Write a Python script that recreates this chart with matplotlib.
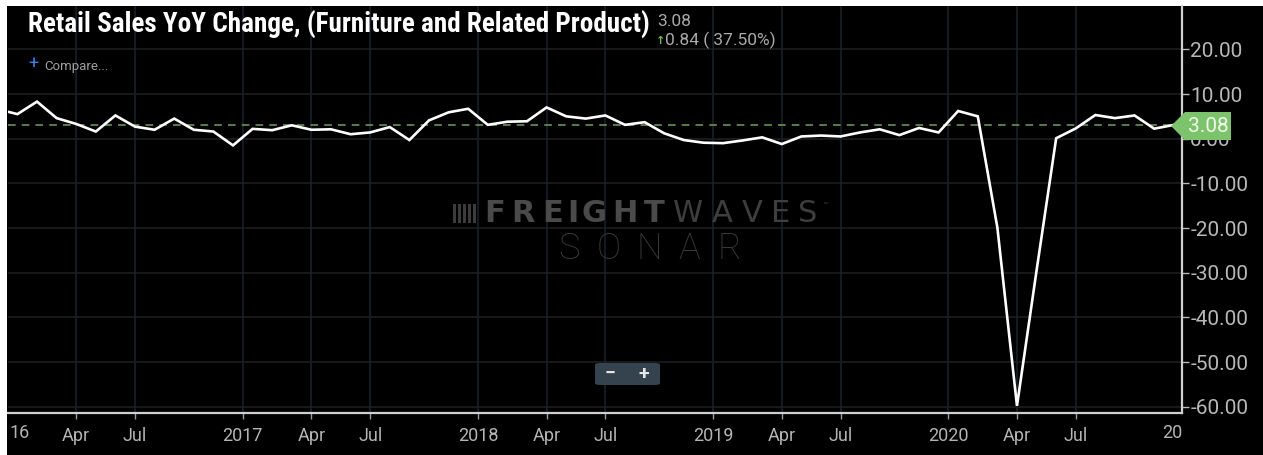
import matplotlib
matplotlib.use("Agg")
import matplotlib.pyplot as plt
from matplotlib import font_manager
from matplotlib.patches import Polygon, FancyBboxPatch, Rectangle

# ---------------- data ----------------
month_labels = ["2015-12",
    "2016-01", "2016-02", "2016-03", "2016-04", "2016-05", "2016-06",
    "2016-07", "2016-08", "2016-09", "2016-10", "2016-11", "2016-12",
    "2017-01", "2017-02", "2017-03", "2017-04", "2017-05", "2017-06",
    "2017-07", "2017-08", "2017-09", "2017-10", "2017-11", "2017-12",
    "2018-01", "2018-02", "2018-03", "2018-04", "2018-05", "2018-06",
    "2018-07", "2018-08", "2018-09", "2018-10", "2018-11", "2018-12",
    "2019-01", "2019-02", "2019-03", "2019-04", "2019-05", "2019-06",
    "2019-07", "2019-08", "2019-09", "2019-10", "2019-11", "2019-12",
    "2020-01", "2020-02", "2020-03", "2020-04", "2020-05", "2020-06",
    "2020-07", "2020-08", "2020-09", "2020-10", "2020-11", "2020-12"]
yoy_values = [6.6,
    5.5, 8.3, 4.6, 3.3, 1.6, 5.2, 2.7, 2.0, 4.5, 2.0, 1.6, -1.5,
    2.2, 1.9, 3.0, 2.0, 2.1, 1.0, 1.4, 2.6, -0.3, 4.1, 5.9, 6.7,
    3.1, 3.8, 3.9, 7.0, 5.0, 4.5, 5.2, 3.1, 3.7, 1.2, -0.3, -0.9,
    -1.0, -0.4, 0.3, -1.2, 0.5, 0.7, 0.5, 1.4, 2.1, 0.8, 2.4, 1.4,
    6.2, 5.0, -19.9, -59.8, -29.5, 0.1, 2.3, 5.3, 4.6, 5.2, 2.24, 3.08]

x_tick_labels = ["Apr", "Jul", "2017", "Apr", "Jul", "2018", "Apr", "Jul",
                 "2019", "Apr", "Jul", "2020", "Apr", "Jul"]
x_tick_pos = [3, 6, 11.5, 15, 18, 23.5, 27, 30, 35.5, 39, 42, 47.5, 51, 54]
edge_labels = ["16", "20"]
y_ticks = [20, 10, 0, -10, -20, -30, -40, -50, -60]

last_value = 3.08
change = 0.84
change_pct = 37.50
title = "Retail Sales YoY Change, (Furniture and Related Product)"

# x positions: month index relative to Jan 2016
x_vals = list(range(-1, len(month_labels) - 1))


def pick(fams):
    for f in fams:
        try:
            font_manager.findfont(font_manager.FontProperties(family=f),
                                  fallback_to_default=False)
            return f
        except Exception:
            pass
    return "DejaVu Sans"


title_font = pick(["Roboto Condensed", "Liberation Sans Narrow",
                   "DejaVu Sans Condensed", "Roboto"])
base_font = pick(["Roboto", "Lato", "DejaVu Sans"])
plt.rcParams["font.family"] = [base_font, "DejaVu Sans"]

W, H = 1263, 455
fig = plt.figure(figsize=(W / 100, H / 100), dpi=100, facecolor="white")
# black chart region (white strip on left and top)
fig.add_artist(Rectangle((7 / W, 0), 1 - 7 / W, (H - 6) / H,
                         transform=fig.transFigure, facecolor="black",
                         edgecolor="none", zorder=0))

ax = fig.add_axes([8 / W, (H - 413) / H, (1182 - 8) / W, (413 - 6) / H])
ax.set_facecolor("black")
ax.set_xlim(-0.48, 59.42)
ax.set_ylim(-61.4, 29.7)

# grid
for yv in y_ticks:
    ax.axhline(yv, color="#1d1d1d", lw=1.2, zorder=1)
for xv in x_tick_pos:
    ax.axvline(xv, color="#17202a", lw=1.2, zorder=1)

# reference dashed line at last value
ax.axhline(last_value, color="#6f9f5f", lw=1.1, ls=(0, (5, 4)), zorder=2)

# series
ax.plot(x_vals, yoy_values, color="white", lw=1.9, zorder=3,
        solid_joinstyle="miter")

# spines
for s in ["left", "top"]:
    ax.spines[s].set_visible(False)
for s in ["right", "bottom"]:
    ax.spines[s].set_color("#cfcfcf")
    ax.spines[s].set_linewidth(1.6)

ax.yaxis.tick_right()
ax.set_yticks(y_ticks)
ax.set_yticklabels([f"{v:.2f}" for v in y_ticks])
ax.tick_params(axis="y", colors="#b8b8b8", labelsize=15, length=5,
               width=1, pad=1, labelcolor="#b8b8b8")
ax.set_xticks(x_tick_pos)
ax.set_xticklabels(x_tick_labels)
ax.tick_params(axis="x", colors="#9a9a9a", labelsize=13, length=4,
               width=1, pad=6, labelcolor="#b4b4b4")

# partial year labels at the two ends of the time axis
fig.text(10 / W, (H - 433) / H, edge_labels[0], fontsize=13,
         color="#b4b4b4", ha="left", va="center")
fig.text(1182 / W, (H - 433) / H, edge_labels[1], fontsize=13,
         color="#b4b4b4", ha="right", va="center")

# title & header texts
fig.text(28 / W, (H - 33) / H, title, fontsize=19.5, fontweight="bold",
         color="white", family=[title_font, "DejaVu Sans"], va="baseline",
         ha="left")
fig.text(657 / W, (H - 26) / H, f"{last_value:.2f}", fontsize=12.5,
         color="#a9a9a9", va="baseline", ha="left")
fig.text(656 / W, (H - 44) / H, "\u2191", fontsize=8, color="#6cc04a",
         fontweight="bold", va="baseline", ha="left",
         family=["DejaVu Sans"])
fig.text(665 / W, (H - 45) / H, f"{change:.2f} ( {change_pct:.2f}%)",
         fontsize=12.5, color="#a9a9a9", va="baseline", ha="left")
fig.text(28 / W, (H - 69) / H, "+", fontsize=13, color="#3b82e6",
         va="baseline", ha="left")
fig.text(44 / W, (H - 70) / H, "Compare...", fontsize=9.5,
         color="#a0a0a0", va="baseline", ha="left")

# watermark
for i in range(5):
    fig.add_artist(Rectangle(((453 + i * 5) / W, (H - 223) / H), 3 / W,
                             19 / H, transform=fig.transFigure,
                             facecolor="#3c3c3c", edgecolor="none",
                             zorder=1.5))
x0 = 482
for ch, w in zip("FREIGHT", [26, 29, 27, 11, 30, 30, 27]):
    fig.text((x0 + w / 2) / W, (H - 213) / H, ch, fontsize=22,
             fontweight="bold", color="#4a4a4a", ha="center", va="center",
             family=["DejaVu Sans"], zorder=1.5)
    x0 += w + 1
for ch, w in zip("WAVES", [38, 29, 29, 26, 26]):
    fig.text((x0 + w / 2) / W, (H - 213) / H, ch, fontsize=22,
             color="#3e3e3e", ha="center", va="center",
             family=["DejaVu Sans"], zorder=1.5)
    x0 += w + 1
fig.text((x0 + 1) / W, (H - 206) / H, "\u2122", fontsize=6,
         color="#3e3e3e", ha="left", va="center", zorder=1.5)
for i, ch in enumerate("SONAR"):
    fig.text((569 + i * 40) / W, (H - 249) / H, ch, fontsize=26,
             fontweight="light", color="#3a3a3a", ha="center",
             va="center", zorder=1.5)

# zoom buttons
fig.add_artist(FancyBboxPatch((595 / W, (H - 385) / H), 65 / W, 22 / H,
                              boxstyle="round,pad=0,rounding_size=0.004",
                              transform=fig.transFigure,
                              facecolor="#34434e", edgecolor="none",
                              zorder=4))
fig.text(610 / W, (H - 374) / H, "\u2212", fontsize=14, color="#e6e6e6",
         fontweight="bold", ha="center", va="center", zorder=5)
fig.text(644 / W, (H - 374) / H, "+", fontsize=14, color="#e6e6e6",
         fontweight="bold", ha="center", va="center", zorder=5)

# last value tag
tag = [(1171, 126), (1185, 112), (1231, 112), (1231, 140), (1185, 140)]
fig.add_artist(Polygon([(px / W, (H - py) / H) for px, py in tag],
                       closed=True, transform=fig.transFigure,
                       facecolor="#7cc36c", edgecolor="none", zorder=6))
fig.text(1208 / W, (H - 126) / H, f"{last_value:.2f}", fontsize=15,
         color="#eef7ea", ha="center", va="center", zorder=7)

fig.savefig("out.png", dpi=100, facecolor="white")
